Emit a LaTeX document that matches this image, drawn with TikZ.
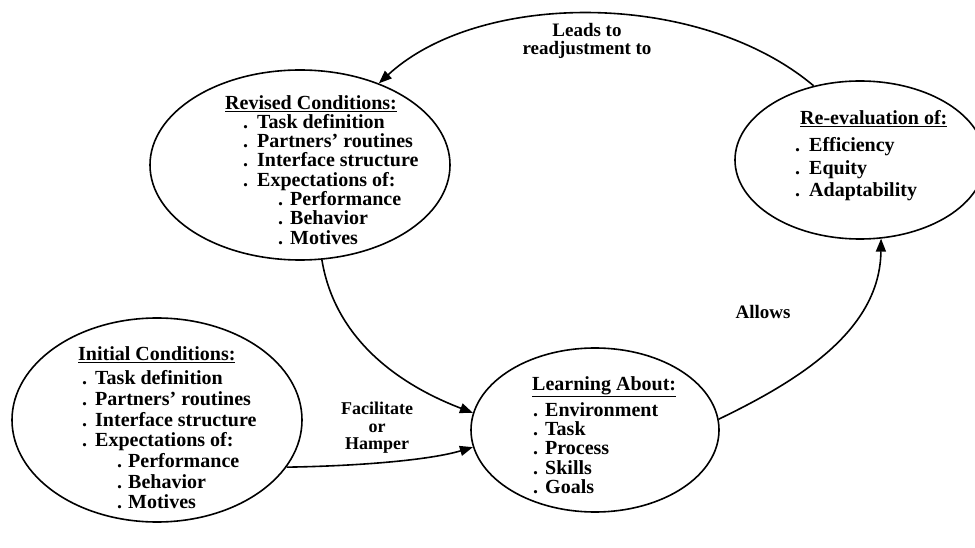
\documentclass[tikz,border=0pt]{standalone}
\usepackage{fontspec}
\setmainfont{Liberation Serif}
\usetikzlibrary{shapes.geometric,arrows.meta}
\tikzset{
  ell/.style={draw, ellipse, line width=1.6pt, inner sep=0pt},
  txtblk/.style={anchor=north west, inner sep=0pt, align=left},
  lbl/.style={inner sep=0pt, align=center},
  conn/.style={line width=1.6pt, -{Triangle[length=13pt,width=10pt]}},
}
\newcommand{\bul}[2]{\hspace*{#1}\makebox[#2][l]{.}}
\begin{document}
\begin{tikzpicture}[x=1pt,y=-1pt]
\useasboundingbox (0,0) rectangle (975,548);
\clip (0,0) rectangle (975,548);
% ellipses
\node[ell, minimum width=300, minimum height=190] (revised) at (300,165) {};
\node[ell, minimum width=250, minimum height=158] (reeval) at (860,160) {};
\node[ell, minimum width=290, minimum height=204] (initial) at (157,420) {};
\node[ell, minimum width=248, minimum height=164] (learning) at (595,430) {};
% texts
\node[txtblk, font=\bfseries\fontsize{20}{19.3}\selectfont] (trevised) at (225,95) {%
\underline{Revised Conditions:}\\
\bul{18pt}{14pt}Task definition\\
\bul{18pt}{14pt}Partners' routines\\
\bul{18pt}{14pt}Interface structure\\
\bul{18pt}{14pt}Expectations of:\\
\bul{53pt}{12pt}Performance\\
\bul{53pt}{12pt}Behavior\\
\bul{53pt}{12pt}Motives};
\node[txtblk, font=\bfseries\fontsize{20}{22.5}\selectfont] (treeval) at (795,110) {%
\hspace*{5pt}\underline{Re-evaluation of:}\\[5pt]
\bul{0pt}{14pt}Efficiency\\
\bul{0pt}{14pt}Equity\\
\bul{0pt}{14pt}Adaptability};
\node[txtblk, font=\bfseries\fontsize{20}{20.7}\selectfont] (tinitial) at (78,346) {%
\underline{Initial Conditions:}\\[4pt]
\bul{4pt}{13pt}Task definition\\
\bul{4pt}{13pt}Partners' routines\\
\bul{4pt}{13pt}Interface structure\\
\bul{4pt}{13pt}Expectations of:\\
\bul{39pt}{11pt}Performance\\
\bul{39pt}{11pt}Behavior\\
\bul{39pt}{11pt}Motives};
\node[txtblk, font=\bfseries\fontsize{20}{19.3}\selectfont] (tlearning) at (532,376) {%
\underline{Learning About:}\\[5pt]
\bul{1pt}{12pt}Environment\\
\bul{1pt}{12pt}Task\\
\bul{1pt}{12pt}Process\\
\bul{1pt}{12pt}Skills\\
\bul{1pt}{12pt}Goals};
% labels
\node[lbl, font=\bfseries\fontsize{19}{18}\selectfont] (lleads) at (587,41) {Leads to\\readjustment to};
\node[lbl, font=\bfseries\fontsize{18}{17.5}\selectfont] (lfac) at (377,428) {Facilitate\\or\\Hamper};
\node[lbl, font=\bfseries\fontsize{19}{19}\selectfont] (lallows) at (763,312) {Allows};
% connectors
\draw[conn] (reeval.122) .. controls (700,-10) and (480,-10) .. (revised.46);
\draw[conn] (revised.-77) .. controls (335,340) and (400,385) .. (learning.172);
\draw[conn] (initial.-20) .. controls (360,466) and (430,460) .. (learning.188);
\draw[conn] (learning.5) .. controls (800,380) and (880,330) .. (reeval.-75);
\end{tikzpicture}
\end{document}
